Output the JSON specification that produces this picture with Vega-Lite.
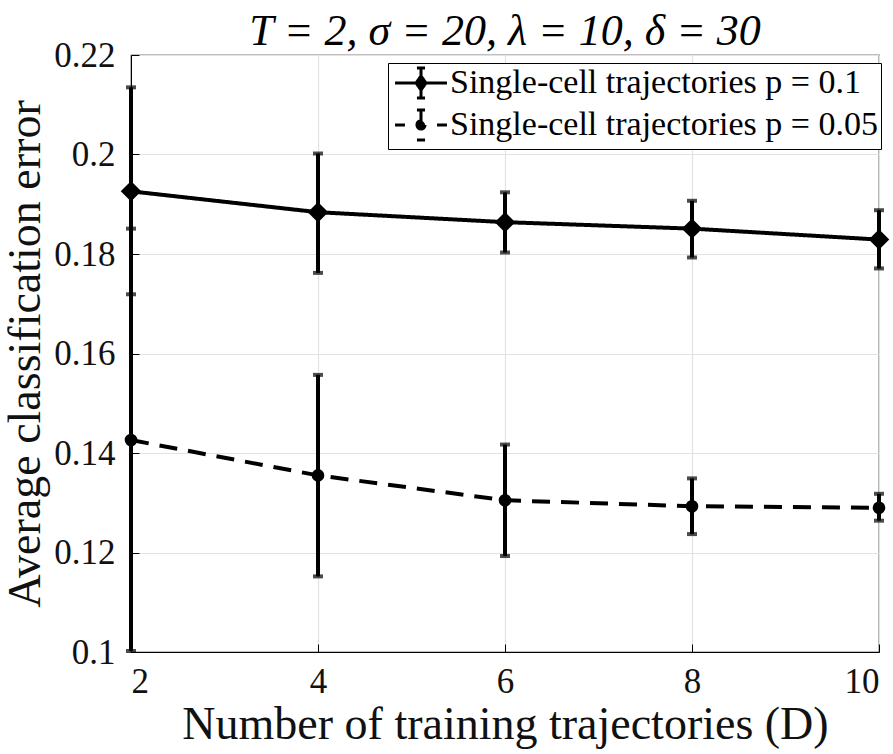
{
  "$schema": "https://vega.github.io/schema/vega-lite/v6.json",
  "width": 748,
  "height": 597,
  "autosize": {"type": "none"},
  "padding": {"left": 131, "top": 55, "right": 14, "bottom": 102},
  "background": "white",
  "title": {
    "text": "T = 2, σ = 20, λ = 10, δ = 30",
    "font": "Liberation Serif, DejaVu Serif, serif",
    "fontSize": 44,
    "fontWeight": "normal",
    "fontStyle": "italic",
    "color": "black",
    "frame": "group",
    "offset": -16
  },
  "config": {
    "view": {"stroke": "black", "strokeWidth": 1.2},
    "axis": {
      "labelFont": "Liberation Serif, DejaVu Serif, serif",
      "titleFont": "Liberation Serif, DejaVu Serif, serif",
      "labelFontSize": 35,
      "titleFontSize": 46,
      "titleFontWeight": "normal",
      "labelColor": "#111111",
      "titleColor": "#111111",
      "domainColor": "black",
      "tickColor": "black",
      "gridColor": "#e2e2e2",
      "gridWidth": 1.2,
      "tickSize": -8
    }
  },
  "data": {
    "values": [
      {"series": "Single-cell trajectories p = 0.1", "D": 2, "mean": 0.1926, "lo": 0.1719, "hi": 0.2135},
      {"series": "Single-cell trajectories p = 0.1", "D": 4, "mean": 0.1884, "lo": 0.1762, "hi": 0.2002},
      {"series": "Single-cell trajectories p = 0.1", "D": 6, "mean": 0.1864, "lo": 0.1803, "hi": 0.1924},
      {"series": "Single-cell trajectories p = 0.1", "D": 8, "mean": 0.1851, "lo": 0.1793, "hi": 0.1907},
      {"series": "Single-cell trajectories p = 0.1", "D": 10, "mean": 0.1829, "lo": 0.1771, "hi": 0.1888},
      {"series": "Single-cell trajectories p = 0.05", "D": 2, "mean": 0.1426, "lo": 0.1002, "hi": 0.1851},
      {"series": "Single-cell trajectories p = 0.05", "D": 4, "mean": 0.1355, "lo": 0.1152, "hi": 0.1557},
      {"series": "Single-cell trajectories p = 0.05", "D": 6, "mean": 0.1305, "lo": 0.1193, "hi": 0.1417},
      {"series": "Single-cell trajectories p = 0.05", "D": 8, "mean": 0.1293, "lo": 0.1237, "hi": 0.1349},
      {"series": "Single-cell trajectories p = 0.05", "D": 10, "mean": 0.129, "lo": 0.1264, "hi": 0.1318}
    ]
  },
  "encoding": {
    "x": {
      "field": "D",
      "type": "quantitative",
      "scale": {"domain": [2, 10], "nice": false, "zero": false},
      "axis": {
        "values": [2, 4, 6, 8, 10],
        "title": "Number of training trajectories (D)",
        "labelPadding": 20,
        "titlePadding": 3,
        "grid": true
      }
    },
    "y": {
      "field": "mean",
      "type": "quantitative",
      "scale": {"domain": [0.1, 0.22], "nice": false, "zero": false},
      "axis": {
        "values": [0.1, 0.12, 0.14, 0.16, 0.18, 0.2, 0.22],
        "format": ".2~f",
        "title": "Average classification error",
        "labelPadding": 24,
        "titlePadding": 4,
        "grid": true
      }
    }
  },
  "layer": [
    {
      "mark": {"type": "rule", "strokeWidth": 4, "color": "black", "clip": false},
      "encoding": {
        "y": {"field": "lo", "type": "quantitative"},
        "y2": {"field": "hi"}
      }
    },
    {
      "mark": {"type": "tick", "orient": "horizontal", "size": 10, "thickness": 4, "color": "black", "clip": false},
      "encoding": {"y": {"field": "lo", "type": "quantitative"}}
    },
    {
      "mark": {"type": "tick", "orient": "horizontal", "size": 10, "thickness": 4, "color": "black", "clip": false},
      "encoding": {"y": {"field": "hi", "type": "quantitative"}}
    },
    {
      "mark": {"type": "line", "strokeWidth": 4, "color": "black", "clip": false},
      "encoding": {
        "strokeDash": {
          "field": "series",
          "type": "nominal",
          "scale": {
            "domain": ["Single-cell trajectories p = 0.1", "Single-cell trajectories p = 0.05"],
            "range": [[1, 0], [18, 11]]
          },
          "legend": {
            "title": null,
            "orient": "none",
            "legendX": 257,
            "legendY": 8,
            "labelFont": "Liberation Serif, DejaVu Serif, serif",
            "labelFontSize": 34,
            "labelColor": "black",
            "labelLimit": 1000,
            "labelOffset": 12,
            "symbolOffset": 13,
            "symbolSize": 900,
            "symbolStrokeWidth": 3,
            "symbolStrokeColor": "black",
            "symbolFillColor": "black",
            "rowPadding": 0,
            "padding": 3,
            "strokeColor": "black",
            "fillColor": "white",
            "cornerRadius": 0,
            "encode": {
              "symbols": {
                "update": {
                  "shape": {"signal": "datum.value == 'Single-cell trajectories p = 0.05' ? 'M-1.73,0H-1.07M1.07,0H1.73M0,-1V1M-0.27,-1H0.27M-0.27,1H0.27M0.27,0A0.27,0.27 0 1,1 -0.27,0A0.27,0.27 0 1,1 0.27,0Z' : 'M-1.73,0H1.73M0,-1V1M-0.27,-1H0.27M-0.27,1H0.27M0,-0.47L0.33,0L0,0.47L-0.33,0Z'"},
                  "strokeDash": {"value": [1, 0]},
                  "fill": {"value": "black"},
                  "stroke": {"value": "black"}
                }
              }
            }
          }
        }
      }
    },
    {
      "transform": [{"filter": {"field": "series", "equal": "Single-cell trajectories p = 0.1"}}],
      "mark": {"type": "point", "shape": "diamond", "size": 420, "filled": true, "color": "black", "opacity": 1, "clip": false}
    },
    {
      "transform": [{"filter": {"field": "series", "equal": "Single-cell trajectories p = 0.05"}}],
      "mark": {"type": "point", "shape": "circle", "size": 160, "filled": true, "color": "black", "opacity": 1, "clip": false}
    }
  ]
}
